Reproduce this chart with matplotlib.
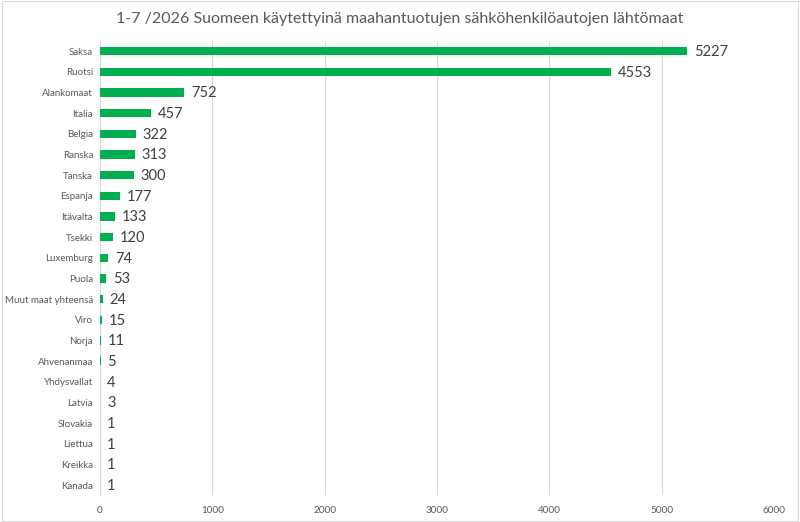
import matplotlib
matplotlib.use("Agg")
import matplotlib.pyplot as plt
from matplotlib.patches import Rectangle

plt.rcParams['font.family'] = ['Lato', 'DejaVu Sans']

countries = ["Saksa", "Ruotsi", "Alankomaat", "Italia", "Belgia", "Ranska", "Tanska",
             "Espanja", "Itävalta", "Tsekki", "Luxemburg", "Puola", "Muut maat yhteensä",
             "Viro", "Norja", "Ahvenanmaa", "Yhdysvallat", "Latvia", "Slovakia",
             "Liettua", "Kreikka", "Kanada"]
counts = [5227, 4553, 752, 457, 322, 313, 300, 177, 133, 120, 74, 53, 24,
          15, 11, 5, 4, 3, 1, 1, 1, 1]
xticks = [0, 1000, 2000, 3000, 4000, 5000, 6000]
title = "1-7 /2026 Suomeen käytettyinä maahantuotujen sähköhenkilöautojen lähtömaat"

fig = plt.figure(figsize=(8, 5.22), dpi=100)
ax = fig.add_axes([0.125, 0.051, 0.8425, 0.871])

ypos = list(range(len(countries)))
ax.barh(ypos, counts, height=0.4, color="#00B050", zorder=3)
for y, v in zip(ypos, counts):
    ax.text(v + 60, y + 0.05, str(v), va="center", ha="left", fontsize=10.5, color="#404040")

ax.set_yticks(ypos)
ax.set_yticklabels(countries, fontsize=7, color="#595959")
ax.set_ylim(len(countries) - 0.5, -0.5)
ax.set_xlim(0, 6000)
ax.set_xticks(xticks)
ax.set_xticklabels([str(t) for t in xticks], fontsize=7.2, color="#595959")
ax.tick_params(length=0, pad=8)
ax.tick_params(axis="y", pad=5)
ax.grid(axis="x", color="#D9D9D9", linewidth=0.8, zorder=0)
for s in ["top", "right", "bottom"]:
    ax.spines[s].set_visible(False)
ax.spines["left"].set_color("#D9D9D9")

fig.text(0.5, 0.963, title, ha="center", va="center", fontsize=11.5, color="#595959")
fig.patches.append(Rectangle((0.002, 0.002), 0.996, 0.996, transform=fig.transFigure,
                             fill=False, edgecolor="#D9D9D9", linewidth=0.8))

fig.savefig("out.png", dpi=100)
